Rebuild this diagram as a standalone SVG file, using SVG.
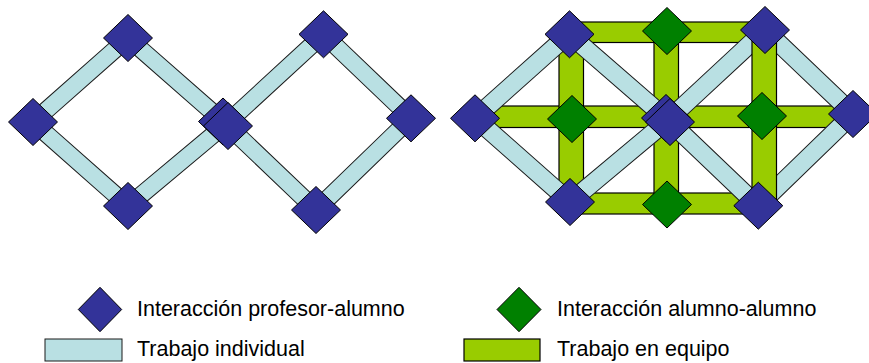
<svg xmlns="http://www.w3.org/2000/svg" xmlns:xlink="http://www.w3.org/1999/xlink" width="869" height="363" viewBox="0 0 869 363">
<style>
.ind{fill:#B9E0E3;stroke:#1a1a1a;stroke-width:1}
.eq{fill:#99CC00;stroke:#000;stroke-width:1.2}
.prof{fill:#333399;stroke:#000;stroke-width:1}
.alum{fill:#008000;stroke:#000;stroke-width:1}
.lbl{font-family:"Liberation Sans",Arial,sans-serif;font-size:21.5px;fill:#000}
</style>
<defs>
<path id="dia" d="M0,-23.5 L24.5,0 L0,23.5 L-24.5,0 Z"/>
</defs>
<rect width="869" height="363" fill="#fff"/>

<g id="connectors">
  <!-- left figure: individual work -->
  <rect class="ind" x="0" y="-8.5" width="126.8" height="17" transform="translate(128,38) rotate(138.52)"/>
  <rect class="ind" x="0" y="-8.5" width="126.8" height="17" transform="translate(33,122) rotate(41.48)"/>
  <rect class="ind" x="0" y="-8.5" width="127.8" height="17" transform="translate(128,206) rotate(-39.92)"/>
  <rect class="ind" x="0" y="-8.5" width="130.4" height="17" transform="translate(128,38) rotate(41.27)"/>
  <rect class="ind" x="0" y="-8.5" width="132.5" height="17" transform="translate(226,124) rotate(-42.62)"/>
  <rect class="ind" x="0" y="-8.5" width="121.1" height="17" transform="translate(323.5,34.3) rotate(43.73)"/>
  <rect class="ind" x="0" y="-8.5" width="132.2" height="17" transform="translate(411,118) rotate(135.92)"/>
  <rect class="ind" x="0" y="-8.5" width="124.5" height="17" transform="translate(226,124) rotate(43.69)"/>

  <!-- right figure: team work (under) -->
  <rect class="eq" x="569" y="22" width="196" height="20.5"/>
  <rect class="eq" x="475" y="106" width="378" height="21.5"/>
  <rect class="eq" x="570" y="193" width="188" height="21"/>
  <rect class="eq" x="559" y="34" width="24.5" height="168"/>
  <rect class="eq" x="654" y="31" width="24.5" height="173"/>

  <!-- right figure: individual work -->
  <rect class="ind" x="0" y="-9" width="126.1" height="18" transform="translate(475,118) rotate(-41.78)"/>
  <rect class="ind" x="0" y="-9" width="126.8" height="18" transform="translate(475,118) rotate(41.48)"/>
  <rect class="ind" x="0" y="-9" width="131.1" height="18" transform="translate(569,34) rotate(40.98)"/>
  <rect class="ind" x="0" y="-9" width="127.8" height="18" transform="translate(570,202) rotate(-39.92)"/>
  <rect class="ind" x="0" y="-9" width="132.3" height="18" transform="translate(668,120) rotate(-42.86)"/>
  <rect class="ind" x="0" y="-9" width="124.5" height="18" transform="translate(668,120) rotate(43.69)"/>
  <rect class="ind" x="0" y="-9" width="121.7" height="18" transform="translate(765,30) rotate(43.67)"/>
  <rect class="ind" x="0" y="-9" width="132.2" height="18" transform="translate(758,206) rotate(-44.08)"/>

  <!-- right figure: team work (over) -->
  <rect class="eq" x="752" y="30" width="24.5" height="176"/>
</g>

<!-- left figure nodes -->
<g id="l-tl"><use xlink:href="#dia" href="#dia" class="prof" x="128" y="38"/></g>
<g id="l-l"><use xlink:href="#dia" href="#dia" class="prof" x="33" y="122"/></g>
<g id="l-bl"><use xlink:href="#dia" href="#dia" class="prof" x="128" y="206"/></g>
<g id="l-c1"><use xlink:href="#dia" href="#dia" class="prof" x="223" y="121.5"/></g>
<g id="l-c2"><use xlink:href="#dia" href="#dia" class="prof" x="228" y="126"/></g>
<g id="l-tr"><use xlink:href="#dia" href="#dia" class="prof" x="323.5" y="34.3"/></g>
<g id="l-r"><use xlink:href="#dia" href="#dia" class="prof" x="411" y="118.3"/></g>
<g id="l-br"><use xlink:href="#dia" href="#dia" class="prof" x="316" y="210"/></g>

<!-- right figure nodes -->
<g id="r-g-top"><use xlink:href="#dia" href="#dia" class="alum" x="667" y="31"/></g>
<g id="r-g-left"><use xlink:href="#dia" href="#dia" class="alum" x="572" y="119"/></g>
<g id="r-g-right"><use xlink:href="#dia" href="#dia" class="alum" x="762" y="116"/></g>
<g id="r-g-bottom"><use xlink:href="#dia" href="#dia" class="alum" x="667" y="204.5"/></g>
<g id="r-tl"><use xlink:href="#dia" href="#dia" class="prof" x="569.5" y="34.3"/></g>
<g id="r-l"><use xlink:href="#dia" href="#dia" class="prof" x="475" y="118.3"/></g>
<g id="r-bl"><use xlink:href="#dia" href="#dia" class="prof" x="570" y="202"/></g>
<g id="r-c1"><use xlink:href="#dia" href="#dia" class="prof" x="666" y="118"/></g>
<g id="r-c2"><use xlink:href="#dia" href="#dia" class="prof" x="670" y="122"/></g>
<g id="r-tr"><use xlink:href="#dia" href="#dia" class="prof" x="765" y="30"/></g>
<g id="r-r"><use xlink:href="#dia" href="#dia" class="prof" x="853" y="114"/></g>
<g id="r-br"><use xlink:href="#dia" href="#dia" class="prof" x="758.3" y="205.7"/></g>

<!-- legend -->
<g id="legend-prof">
  <path class="prof" d="M100,287.3 L121.7,309.5 L100,331.7 L78.3,309.5 Z"/>
  <text class="lbl" x="137" y="316">Interacción profesor-alumno</text>
</g>
<g id="legend-ind">
  <rect class="ind" x="45" y="339" width="77" height="22"/>
  <text class="lbl" x="137" y="356">Trabajo individual</text>
</g>
<g id="legend-alum">
  <path class="alum" d="M519,287.3 L541,309.5 L519,331.7 L497,309.5 Z"/>
  <text class="lbl" x="557" y="316">Interacción alumno-alumno</text>
</g>
<g id="legend-eq">
  <rect class="eq" x="464" y="339" width="76" height="22"/>
  <text class="lbl" x="557" y="356">Trabajo en equipo</text>
</g>
</svg>
